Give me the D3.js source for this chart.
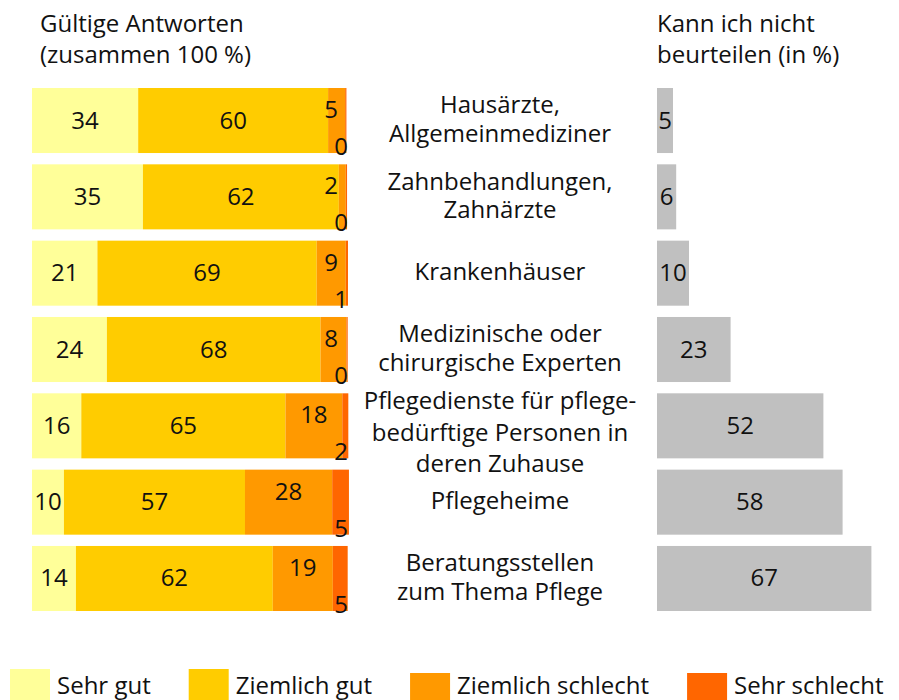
<!DOCTYPE html>
<html>
<head>
<meta charset="utf-8">
<script src="https://cdn.jsdelivr.net/npm/d3@7"></script>
<style>
  body { margin: 0; background: #fff; }
  svg text { font-family: "Open Sans", sans-serif; fill: #111; }
</style>
</head>
<body>
<div id="chart"></div>
<script>
// categories (rows), label lines split at "|"
var kategorien = ["Hausärzte,|Allgemeinmediziner",
                  "Zahnbehandlungen,|Zahnärzte",
                  "Krankenhäuser",
                  "Medizinische oder|chirurgische Experten",
                  "Pflegedienste für pflege-|bedürftige Personen in|deren Zuhause",
                  "Pflegeheime",
                  "Beratungsstellen|zum Thema Pflege"];
var stufen = ["Sehr gut", "Ziemlich gut", "Ziemlich schlecht", "Sehr schlecht"];
var farben = ["#FFFF99", "#FFCC00", "#FF9900", "#FF6600"];
// gültige Antworten in % (geschätzt, gerundet = Beschriftung)
var sehrGut        = [33.6, 35.1, 20.7, 23.7, 15.6, 10.1, 13.9];
var ziemlichGut    = [60.1, 62.0, 69.4, 67.6, 64.6, 57.3, 62.3];
var ziemlichSchl   = [5.4, 2.2, 9.2, 8.2, 18.0, 27.6, 19.0];
var sehrSchlecht   = [0.4, 0.4, 0.7, 0.4, 1.9, 5.3, 4.7];
// kann ich nicht beurteilen in %
var nichtBeurteilen = [5, 6, 10, 23, 52, 58, 67];

var width = 899, height = 700;
var fs = "24px";
var svg = d3.select("#chart").append("svg")
  .attr("width", width)
  .attr("height", height);

var fmt = d3.format(".0f");

var y = d3.scaleBand().domain(d3.range(kategorien.length))
  .range([88, 611]).paddingInner(0.148).paddingOuter(0);
var x = d3.scaleLinear().domain([0, 100]).range([32, 348]);
var xr = d3.scaleLinear().domain([0, 100]).range([657, 977]);

var reihen = [sehrGut, ziemlichGut, ziemlichSchl, sehrSchlecht];

// header
function kopf(x0, zeilen) {
  zeilen.forEach(function(z, i) {
    svg.append("text").attr("x", x0).attr("y", 32 + i * 31)
      .style("font-size", fs).text(z);
  });
}
kopf(40, ["Gültige Antworten", "(zusammen 100 %)"]);
kopf(657, ["Kann ich nicht", "beurteilen (in %)"]);

// stacked bars
kategorien.forEach(function(k, r) {
  var g = svg.append("g");
  var links = 0;
  var y0 = y(r), bh = y.bandwidth();
  for (var s = 0; s < 4; s++) {
    var v = reihen[s][r];
    var x0 = x(links), x1 = x(links + v);
    g.append("rect")
      .attr("x", x0).attr("y", y0)
      .attr("width", x1 - x0).attr("height", bh)
      .style("fill", farben[s]);
    links += v;
  }
  // labels
  links = 0;
  for (var s = 0; s < 4; s++) {
    var v = reihen[s][r];
    var x0 = x(links), x1 = x(links + v);
    var t = g.append("text").style("font-size", fs).attr("text-anchor", "middle").text(fmt(v));
    if (s < 2) {
      t.attr("x", (x0 + x1) / 2).attr("y", y0 + bh / 2 + 8);
    } else if (s == 2) {
      var w = t.node().getComputedTextLength();
      t.attr("x", Math.min((x0 + x1) / 2, x(100) - 10 - w / 2)).attr("y", y0 + 30);
    } else {
      t.attr("x", x(100) - 7).attr("y", y0 + bh + 2);
    }
    links += v;
  }

  // category label
  var zeilen = k.split("|");
  var n = zeilen.length;
  var lh = n > 2 ? 31.5 : 28.5, off = n > 2 ? 15 : 7;
  var c = y0 + bh / 2;
  zeilen.forEach(function(z, i) {
    g.append("text").attr("text-anchor", "middle").style("font-size", fs)
      .attr("x", 500)
      .attr("y", c + (i - (n - 1) / 2) * lh + off).text(z);
  });

  // right bar
  var v2 = nichtBeurteilen[r];
  g.append("rect").attr("x", xr(0)).attr("y", y0)
    .attr("width", xr(v2) - xr(0)).attr("height", bh)
    .style("fill", "#C0C0C0");
  g.append("text").attr("text-anchor", "middle").style("font-size", fs)
    .attr("x", (xr(0) + xr(v2)) / 2).attr("y", c + 8).text(v2);
});

// legend
var lx = 10;
stufen.forEach(function(s, i) {
  svg.append("rect").attr("x", lx).attr("y", i < 2 ? 669 : 673)
    .attr("width", 40).attr("height", 31).style("fill", farben[i]);
  var t = svg.append("text").attr("x", lx + 47).attr("y", 694)
    .style("font-size", "24px").text(s);
  lx = lx + 47 + t.node().getComputedTextLength() + 38;
});
</script>
</body>
</html>
